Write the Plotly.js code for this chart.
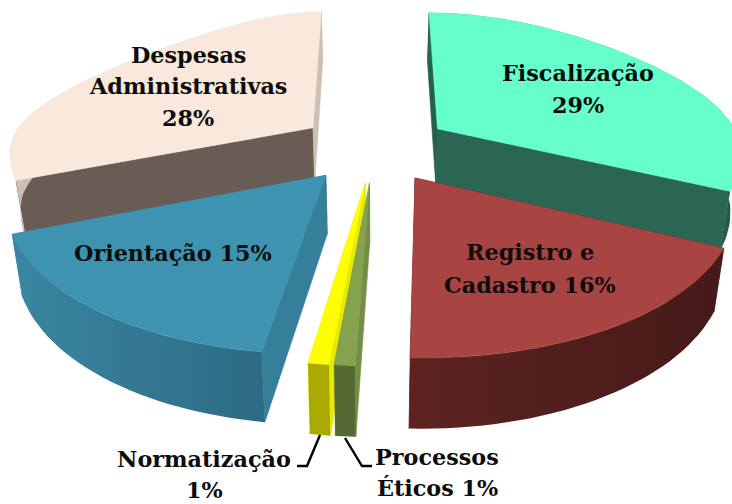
<!DOCTYPE html>
<html><head><meta charset="utf-8">
<script src="https://cdn.plot.ly/plotly-3.0.1.min.js"></script>
<style>html,body{margin:0;padding:0;background:#fff}#c{width:732px;height:504px}</style>
</head><body><div id="c"></div>
<script>
var categories = ["Fiscalização","Registro e Cadastro","Processos Éticos","Normatização","Orientação","Despesas Administrativas"];
var shares = [29, 16.6, 0.8, 0.8, 15, 28];
var topColors = ["#66FFCC","#A84442","#85A24F","#FFFF00","#3E94B0","#F9E8DB"];
var cutStartColors = ["#23604E","#56201F","#748F45","#E8E800","#357F9B","#685C54"];
var cutEndColors = ["#2A6653","#56201F","#748F45","#E8E800","#357F9B","#CDBFB6"];
var wallLeft = ["#2A6653","#5C2321","#556A33","#A9A900","#3A86A2","#CDBFB6"];
var wallRight = ["#24594A","#451A19","#556A33","#A9A900","#2E6A83","#CDBFB6"];
var drawOrder = [5,0,4,1,3,2];
var labelLines = [
  ["Despesas",188,55],["Administrativas",188,86],["28%",188,118],
  ["Fiscalização",578,73],["29%",578,105],
  ["Orientação 15%",173,253],
  ["Registro e",530,252],["Cadastro 16%",530,285],
  ["Normatização",204,459],["1%",204,490],
  ["Processos",437,457],["Éticos 1%",437,488]
];
var leaderX = [[297,307,320],[345,362,372]];
var leaderY = [[466,466,435],[438,466,466]];

// Projection of the exploded cylinder
var cx=374.5, cy=147, Rx=304, A=140, k=0.16, qLeft=0.5, qRight=0.2, H=57, explode=0.25, baseShrink=0.972;
function proj(ox,oy,sn,cs,bottom){
  var Y=oy+cs, s=1/(1+k*Y);
  var q=sn<0 ? qLeft : qRight;
  var g=Y>0 ? 1/(1+q*Y*Y) : 1;
  var x=Rx*s*(ox+sn*g), y=-A*Y*s;
  if(bottom){ x*=baseShrink; y+=H*s; }
  return [cx+x, cy+y];
}
function rad(d){return d*Math.PI/180;}
function poly(pts,color,grad){
  var t={type:'scatter',mode:'lines',x:pts.map(function(p){return p[0];}),y:pts.map(function(p){return p[1];}),
    fill:'toself',fillcolor:color,line:{width:0.6,color:color},hoverinfo:'skip',showlegend:false};
  if(grad){ t.fillgradient={type:'horizontal',colorscale:[[0,grad[0]],[1,grad[1]]]}; t.line={width:0}; }
  return t;
}
var total=shares.reduce(function(a,b){return a+b;},0);
var starts=[],acc=0;
shares.forEach(function(v){starts.push(acc/total*360);acc+=v;});
var traces=[];
drawOrder.forEach(function(i){
  var a0=starts[i], a1=a0+shares[i]/total*360, mid=(a0+a1)/2;
  var ox=explode*Math.sin(rad(mid)), oy=explode*Math.cos(rad(mid));
  var tops=[],bots=[],n=Math.max(2,Math.ceil((a1-a0)/2));
  for(var j=0;j<=n;j++){
    var t=rad(a0+(a1-a0)*j/n);
    tops.push(proj(ox,oy,Math.sin(t),Math.cos(t),false)); bots.push(proj(ox,oy,Math.sin(t),Math.cos(t),true));
  }
  var at=proj(ox,oy,0,0,false), ab=proj(ox,oy,0,0,true);
  traces.push(poly([at,tops[0],bots[0],ab,at],cutStartColors[i]));
  traces.push(poly([at,tops[n],bots[n],ab,at],cutEndColors[i]));
  traces.push(poly(tops.concat(bots.slice().reverse()).concat([tops[0]]),wallLeft[i],[wallLeft[i],wallRight[i]]));
  traces.push(poly([at].concat(tops).concat([at]),topColors[i]));
});
leaderX.forEach(function(xs,i){
  traces.push({type:'scatter',mode:'lines',x:xs,y:leaderY[i],line:{color:'#000',width:2.4},hoverinfo:'skip',showlegend:false});
});
var layout={width:732,height:504,margin:{l:0,r:0,t:0,b:0},paper_bgcolor:'#fff',plot_bgcolor:'#fff',showlegend:false,
  xaxis:{range:[0,732],visible:false,fixedrange:true},
  yaxis:{range:[504,0],visible:false,fixedrange:true},
  annotations:labelLines.map(function(l){
    return {x:l[1],y:l[2],xref:'x',yref:'y',text:l[0],showarrow:false,xanchor:'center',yanchor:'middle',
      font:{family:'"DejaVu Serif",serif',size:22.3,color:'#0d0d0d',weight:700}};
  })};
Plotly.newPlot('c',traces,layout,{displayModeBar:false,staticPlot:true});
</script></body></html>
